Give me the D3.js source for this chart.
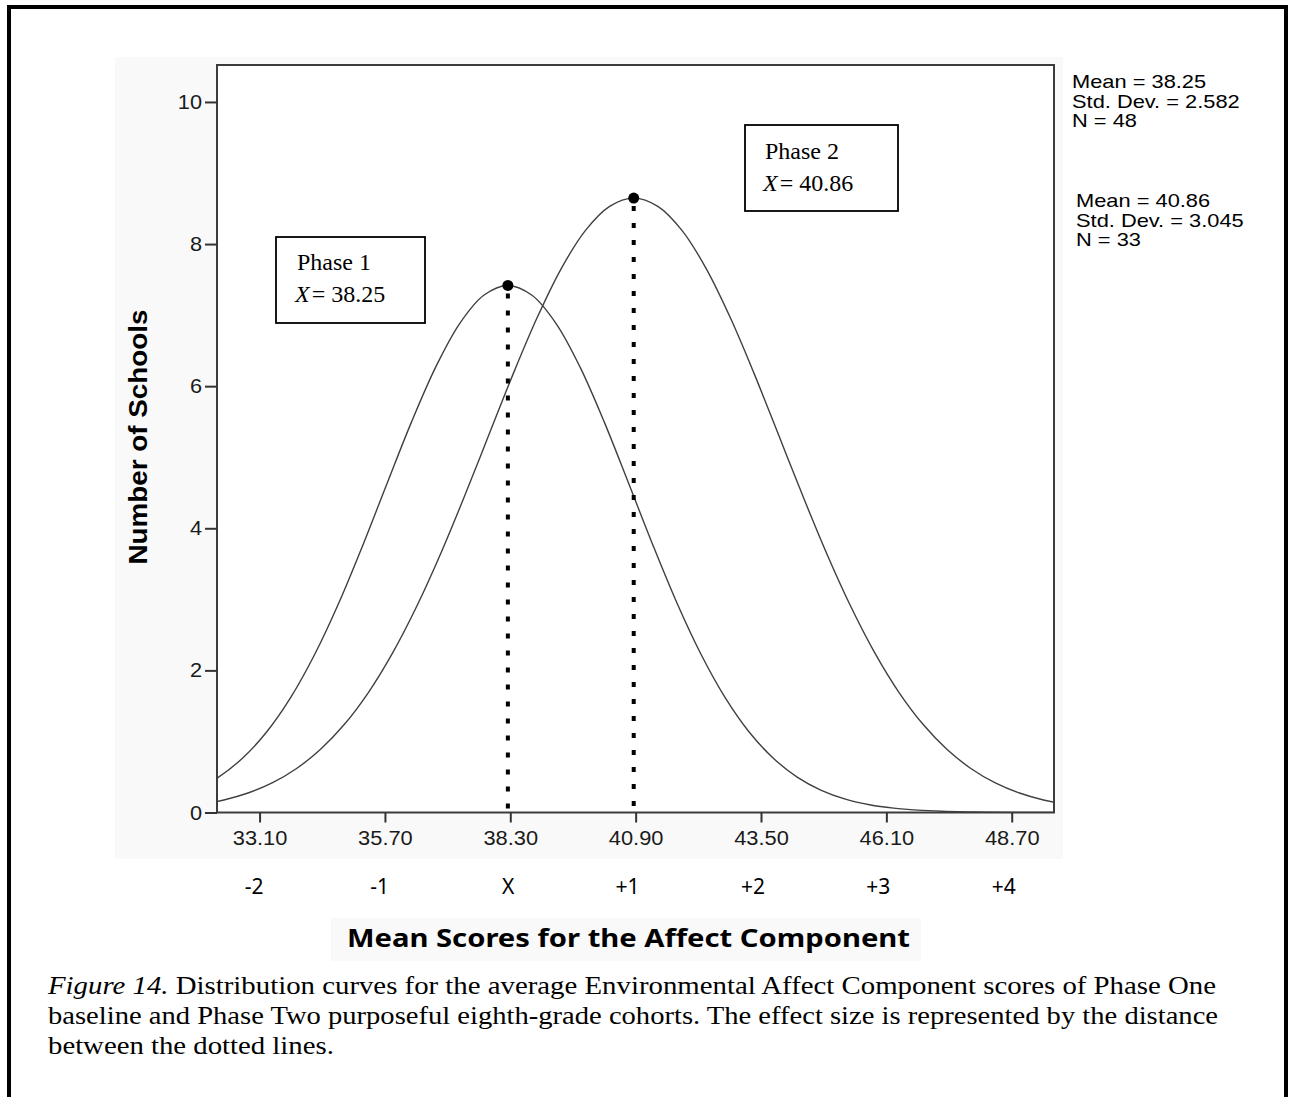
<!DOCTYPE html>
<html>
<head>
<meta charset="utf-8">
<script src="https://cdn.jsdelivr.net/npm/d3@7/dist/d3.min.js"></script>
<style>
  html, body { margin: 0; padding: 0; background: #ffffff; }
  svg { display: block; }
</style>
</head>
<body>
<svg id="chart" width="1289" height="1097"></svg>
<script>
// ---------------- data ----------------
const xTickValues = [33.10, 35.70, 38.30, 40.90, 43.50, 46.10, 48.70];
const sdLabels    = ["-2", "-1", "X", "+1", "+2", "+3", "+4"];
const yTickValues = [0, 2, 4, 6, 8, 10];

// Phase 1 curve (Mean = 38.25, Std. Dev. = 2.582, N = 48)
const phase1X = [31.75, 32.25, 32.75, 33.25, 33.75, 34.25, 34.75, 35.25, 35.75, 36.25, 36.75, 37.25, 37.75,
                 38.25, 38.75, 39.25, 39.75, 40.25, 40.75, 41.25, 41.75, 42.25, 42.75, 43.25, 43.75, 44.25,
                 44.75, 45.25, 45.75, 46.25, 46.75, 47.25, 47.75, 48.25, 48.75, 49.25, 49.75];
const phase1Counts = [0.312, 0.498, 0.767, 1.137, 1.624, 2.234, 2.959, 3.776, 4.641, 5.494, 6.265, 6.881, 7.279,
                      7.417, 7.279, 6.881, 6.265, 5.494, 4.641, 3.776, 2.959, 2.234, 1.624, 1.137, 0.767, 0.498,
                      0.312, 0.188, 0.109, 0.061, 0.033, 0.017, 0.0085, 0.0041, 0.0019, 0.0009, 0.0004];

// Phase 2 curve (Mean = 40.86, Std. Dev. = 3.045, N = 33)
const phase2X = [31.86, 32.36, 32.86, 33.36, 33.86, 34.36, 34.86, 35.36, 35.86, 36.36, 36.86, 37.36, 37.86,
                 38.36, 38.86, 39.36, 39.86, 40.36, 40.86, 41.36, 41.86, 42.36, 42.86, 43.36, 43.86, 44.36,
                 44.86, 45.36, 45.86, 46.36, 46.86, 47.36, 47.86, 48.36, 48.86, 49.36, 49.86];
const phase2Counts = [0.110, 0.176, 0.274, 0.416, 0.616, 0.886, 1.241, 1.692, 2.246, 2.902, 3.649, 4.467, 5.322,
                      6.173, 6.969, 7.659, 8.193, 8.531, 8.647, 8.531, 8.193, 7.659, 6.969, 6.173, 5.322, 4.467,
                      3.649, 2.902, 2.246, 1.692, 1.241, 0.886, 0.616, 0.416, 0.274, 0.176, 0.110];

const phaseNames = ["Phase 1", "Phase 2"];
const phaseMeans = [38.25, 40.86];
const phaseMeanLabels = ["38.25", "40.86"];
const statsLines = [
  ["Mean = 38.25", "Std. Dev. = 2.582", "N = 48"],
  ["Mean = 40.86", "Std. Dev. = 3.045", "N = 33"]
];
const yTitle = "Number of Schools";
const xTitle = "Mean Scores for the Affect Component";
const captionItalic = "Figure 14.";
const captionLines = [
  " Distribution curves for the average Environmental Affect Component scores of Phase One",
  "baseline and Phase Two purposeful eighth-grade cohorts. The effect size is represented by the distance",
  "between the dotted lines."
];

// ---------------- layout ----------------
const svg = d3.select("#chart");
const plot = { left: 217, right: 1054, top: 65, bottom: 812.5 };
const sansSPSS = "'Liberation Sans', Arial, sans-serif";
const sansUI = "'Noto Sans', 'Open Sans', sans-serif";
const serif = "'Liberation Serif', 'Times New Roman', serif";

const x = d3.scaleLinear().domain([32.217, 49.577]).range([plot.left, plot.right]);
const y = d3.scaleLinear().domain([0, 10.52]).range([plot.bottom, plot.top]);

function stretch(sel, f) {
  sel.each(function () {
    const w = this.getComputedTextLength();
    d3.select(this).attr("textLength", w * f).attr("lengthAdjust", "spacingAndGlyphs");
  });
}

// outer frame (open at the bottom)
svg.append("path")
  .attr("d", "M9,1097 V7 H1286 V1097")
  .attr("fill", "none").attr("stroke", "#000").attr("stroke-width", 4);

// light gray chart panel
svg.append("rect").attr("x", 115).attr("y", 57).attr("width", 948).attr("height", 802).attr("fill", "#f9f9f9");
// plot area
svg.append("rect").attr("x", plot.left).attr("y", plot.top)
  .attr("width", plot.right - plot.left).attr("height", plot.bottom - plot.top)
  .attr("fill", "#ffffff");

// clip for curves
svg.append("clipPath").attr("id", "clip").append("rect")
  .attr("x", plot.left).attr("y", plot.top)
  .attr("width", plot.right - plot.left).attr("height", plot.bottom - plot.top);

// curves
const line = d3.line().x(d => x(d[0])).y(d => y(d[1])).curve(d3.curveCatmullRom.alpha(0.5));
const curveData = [
  phase1X.map((v, i) => [v, phase1Counts[i]]),
  phase2X.map((v, i) => [v, phase2Counts[i]])
];
svg.append("g").attr("clip-path", "url(#clip)")
  .selectAll("path").data(curveData).join("path")
  .attr("d", line)
  .attr("fill", "none").attr("stroke", "#404040").attr("stroke-width", 1.4);

// dotted mean lines and peak dots
const peaks = [
  phase1Counts[phase1X.indexOf(phaseMeans[0])],
  phase2Counts[phase2X.indexOf(phaseMeans[1])]
];
svg.append("g").selectAll("line").data(phaseMeans).join("line")
  .attr("x1", d => x(d)).attr("x2", d => x(d))
  .attr("y1", (d, i) => y(peaks[i]) + 8).attr("y2", y(0))
  .attr("stroke", "#000").attr("stroke-width", 4).attr("stroke-dasharray", "5,12");
svg.append("g").selectAll("circle").data(phaseMeans).join("circle")
  .attr("cx", d => x(d)).attr("cy", (d, i) => y(peaks[i]))
  .attr("r", 5.5).attr("fill", "#000");

// plot frame
svg.append("rect").attr("x", plot.left).attr("y", plot.top)
  .attr("width", plot.right - plot.left).attr("height", plot.bottom - plot.top)
  .attr("fill", "none").attr("stroke", "#3c3c3c").attr("stroke-width", 2);

// x axis
const xAxis = svg.append("g").attr("transform", `translate(0,${plot.bottom})`)
  .call(d3.axisBottom(x).tickValues(xTickValues).tickFormat(d3.format(".2f"))
    .tickSize(10).tickSizeOuter(0).tickPadding(9));
xAxis.select(".domain").remove();
xAxis.selectAll(".tick line").attr("stroke", "#333").attr("stroke-width", 2);
xAxis.selectAll(".tick text").attr("font-family", sansSPSS).attr("font-size", 19.5)
  .attr("fill", "#1a1a1a").call(stretch, 1.12);

// y axis
const yAxis = svg.append("g").attr("transform", `translate(${plot.left},0)`)
  .call(d3.axisLeft(y).tickValues(yTickValues).tickFormat(d3.format("d"))
    .tickSize(12).tickSizeOuter(0).tickPadding(3));
yAxis.select(".domain").remove();
yAxis.selectAll(".tick line").attr("stroke", "#333").attr("stroke-width", 2);
yAxis.selectAll(".tick text").attr("font-family", sansSPSS).attr("font-size", 20.5)
  .attr("fill", "#1a1a1a").call(stretch, 1.06);

// standard-deviation labels under the ticks
svg.append("g").selectAll("text").data(xTickValues).join("text")
  .attr("x", d => x(d) + 4).attr("y", 894)
  .attr("text-anchor", "end")
  .attr("font-family", sansUI).attr("font-size", 21).attr("fill", "#000")
  .text((d, i) => sdLabels[i]);

// axis titles
svg.append("rect").attr("x", 331).attr("y", 918).attr("width", 590).attr("height", 43).attr("fill", "#f9f9f9");
svg.append("text").attr("x", 347).attr("y", 947)
  .attr("font-family", sansUI).attr("font-weight", "bold").attr("font-size", 25).attr("fill", "#000")
  .text(xTitle)
  .attr("textLength", 563).attr("lengthAdjust", "spacingAndGlyphs");

svg.append("text")
  .attr("transform", "translate(147,437) rotate(-90)")
  .attr("text-anchor", "middle")
  .attr("font-family", sansSPSS).attr("font-weight", "bold").attr("font-size", 26).attr("fill", "#000")
  .text(yTitle)
  .attr("textLength", 255).attr("lengthAdjust", "spacingAndGlyphs");

// stats text at top right
const statsPos = [{ x: 1072, y: 88 }, { x: 1076, y: 207 }];
statsLines.forEach((lines, k) => {
  svg.append("g").selectAll("text").data(lines).join("text")
    .attr("x", statsPos[k].x).attr("y", (d, i) => statsPos[k].y + i * 19.5)
    .attr("font-family", sansSPSS).attr("font-size", 18.5).attr("fill", "#000")
    .text(d => d)
    .call(stretch, 1.18);
});

// annotation boxes
const boxes = [
  { x: 276, y: 237, w: 149, h: 86, tx: 297, ty: 270 },
  { x: 745, y: 125, w: 153, h: 86, tx: 765, ty: 159 }
];
boxes.forEach((b, i) => {
  svg.append("rect").attr("x", b.x).attr("y", b.y).attr("width", b.w).attr("height", b.h)
    .attr("fill", "#fff").attr("stroke", "#000").attr("stroke-width", 1.8);
  svg.append("text").attr("x", b.tx).attr("y", b.ty)
    .attr("font-family", serif).attr("font-size", 24).attr("fill", "#000")
    .text(phaseNames[i]);
  const t = svg.append("text").attr("x", b.tx - 2).attr("y", b.ty + 31.5)
    .attr("font-family", serif).attr("font-size", 24).attr("fill", "#000");
  t.append("tspan").attr("font-style", "italic").text("X");
  t.append("tspan").text("= " + phaseMeanLabels[i]).attr("dx", 2);
});

// caption
const cap = svg.append("g").attr("font-family", serif).attr("font-size", 25).attr("fill", "#000");
const c1 = cap.append("text").attr("x", 48).attr("y", 994);
c1.append("tspan").attr("font-style", "italic").text(captionItalic);
c1.append("tspan").text(captionLines[0]);
c1.attr("textLength", 1168).attr("lengthAdjust", "spacingAndGlyphs");
cap.append("text").attr("x", 48).attr("y", 1024).text(captionLines[1])
  .attr("textLength", 1170).attr("lengthAdjust", "spacingAndGlyphs");
cap.append("text").attr("x", 48).attr("y", 1054).text(captionLines[2])
  .call(stretch, 1.15);
</script>
</body>
</html>
